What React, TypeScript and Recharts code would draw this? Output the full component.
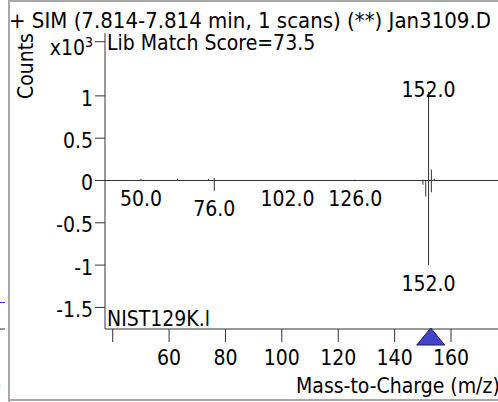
import React from 'react';
import { ComposedChart, Bar, XAxis, YAxis, ReferenceLine, ReferenceDot, LabelList } from 'recharts';

const mzValues = [50, 63, 74, 76, 102, 126, 150, 151, 152, 153, 154, 163];
const sampleCounts = [0.02, 0.02, 0.02, 0.03, 0, 0.01, 0.01, 0, 1.05, 0.13, 0.02, 0.005];
const libraryCounts = [-0.005, 0, 0, -0.12, -0.005, -0.005, -0.05, -0.19, -1.0, -0.14, 0, 0];
const sampleLabelMz = [152];
const libraryLabelMz = [50, 76, 102, 126, 152];
const yTicks = [-1.5, -1, -0.5, 0, 0.5, 1, 1.64];
const xTicks = [40, 60, 80, 100, 120, 140, 160];
const markerMz = [152.8];

const title = '+ SIM (7.814-7.814 min, 1 scans) (**) Jan3109.D';
const scoreText = 'Lib Match Score=73.5';
const libraryName = 'NIST129K.l';
const xTitle = 'Mass-to-Charge (m/z)';
const yTitle = 'Counts';

const FONT = "'DejaVu Sans Condensed', 'DejaVu Sans', sans-serif";
const FS = 21;
const Y_MIN = -1.755;
const Y_MAX = 1.743;

const data = mzValues.map((mz, i) => ({
  mz,
  sample: sampleCounts[i],
  library: libraryCounts[i],
  sampleLabel: sampleLabelMz.includes(mz) ? mz.toFixed(1) : undefined,
  libraryLabel: libraryLabelMz.includes(mz) ? mz.toFixed(1) : undefined,
}));

const box = (p: any) => {
  const vb = p.viewBox && p.viewBox.width !== undefined ? p.viewBox : p;
  return { x: Number(vb.x), y: Number(vb.y), w: Number(vb.width), h: Number(vb.height) };
};

const SampleLabel = (p: any) => {
  if (!p.value) return null;
  const { x, y, w, h } = box(p);
  const top = Math.min(y, y + h);
  return (
    <text x={x + w / 2} y={top - 2} dy="0.36em" textAnchor="middle" fontFamily={FONT} fontSize={FS} fill="#000">
      {p.value}
    </text>
  );
};

const LibraryLabel = (p: any) => {
  if (!p.value) return null;
  const { x, y, w, h } = box(p);
  const bottom = Math.max(y, y + h);
  return (
    <text x={x + w / 2} y={bottom + 18} dy="0.36em" textAnchor="middle" fontFamily={FONT} fontSize={FS} fill="#000">
      {p.value}
    </text>
  );
};

const YTick = (p: any) => {
  const v = p.payload.value;
  if (v > 1.5) {
    return (
      <text x={p.x} y={p.y + 13} textAnchor="end" fontFamily={FONT} fontSize={FS} fill="#000">
        x10<tspan fontSize={14} dy={-8}>3</tspan>
      </text>
    );
  }
  return (
    <text x={p.x} y={p.y} dy="0.46em" textAnchor="end" fontFamily={FONT} fontSize={FS} fill="#000">
      {String(v)}
    </text>
  );
};

const Marker = (p: any) => {
  const cx = p.cx;
  const cy = p.cy;
  return (
    <g>
      <polygon points={`${cx},${cy - 1} ${cx - 14},${cy + 16} ${cx + 14},${cy + 16}`} fill="#4343cc" stroke="#1c1c55" strokeWidth={1} />
    </g>
  );
};

export default function App() {
  return (
    <div style={{ position: 'absolute', left: 0, top: 0, width: 498, height: 402, overflow: 'hidden', background: '#fff' }}>
      <div style={{ position: 'absolute', left: 0, top: 0 }}>
        <ComposedChart
          width={520}
          height={402}
          data={data}
          stackOffset="sign"
          margin={{ top: 33, right: 12.6, bottom: 33, left: 0 }}
        >
          <XAxis
            dataKey="mz"
            type="number"
            domain={[37.27, 180]}
            allowDataOverflow
            ticks={xTicks}
            interval={0}
            tickFormatter={(v: number) => (v === 40 ? '' : String(v))}
            tickSize={13}
            tickMargin={8}
            height={40}
            stroke="#333"
            tick={{ fontFamily: FONT, fontSize: FS, fill: '#000' }}
          />
          <YAxis
            type="number"
            domain={[Y_MIN, Y_MAX]}
            allowDataOverflow
            ticks={yTicks}
            interval={0}
            width={105}
            tickSize={10}
            tickMargin={2}
            stroke="#333"
            tick={<YTick />}
          />
          <ReferenceLine y={0} stroke="#333" />
          <Bar dataKey="sample" stackId="s" barSize={1} fill="#333" isAnimationActive={false}>
            <LabelList dataKey="sampleLabel" content={<SampleLabel />} />
          </Bar>
          <Bar dataKey="library" stackId="s" barSize={1} fill="#333" isAnimationActive={false}>
            <LabelList dataKey="libraryLabel" content={<LibraryLabel />} />
          </Bar>
          {markerMz.map((m) => (
            <ReferenceDot key={m} x={m} y={Y_MIN} r={14} ifOverflow="visible" shape={<Marker />} />
          ))}
        </ComposedChart>
      </div>
      <svg width={498} height={402} style={{ position: 'absolute', left: 0, top: 0, pointerEvents: 'none' }}>
        <line x1={9} y1={0} x2={9} y2={402} stroke="#a8a8a8" strokeWidth={2} />
        <line x1={8} y1={1} x2={498} y2={1} stroke="#a8a8a8" strokeWidth={2} />
        <line x1={8} y1={400} x2={498} y2={400} stroke="#a8a8a8" strokeWidth={2} />
        <line x1={0} y1={302.5} x2={5} y2={302.5} stroke="#3030ff" strokeWidth={1} />
        <line x1={0} y1={329} x2={5} y2={329} stroke="#333" strokeWidth={1} />
        <text x={-6} y={393} fontFamily={FONT} fontSize={FS} fill="#000">)</text>
        <text x={9} y={28} fontFamily={FONT} fontSize={22} fill="#000">{title}</text>
        <text x={107} y={50} fontFamily={FONT} fontSize={FS} fill="#000">{scoreText}</text>
        <text x={33} y={66} transform="rotate(-90, 33, 66)" textAnchor="middle" fontFamily={FONT} fontSize={FS} fill="#000">{yTitle}</text>
        <text x={107} y={326} fontFamily={FONT} fontSize={FS} fill="#000">{libraryName}</text>
        <text x={296} y={393} fontFamily={FONT} fontSize={FS} fill="#000">{xTitle}</text>
      </svg>
    </div>
  );
}
